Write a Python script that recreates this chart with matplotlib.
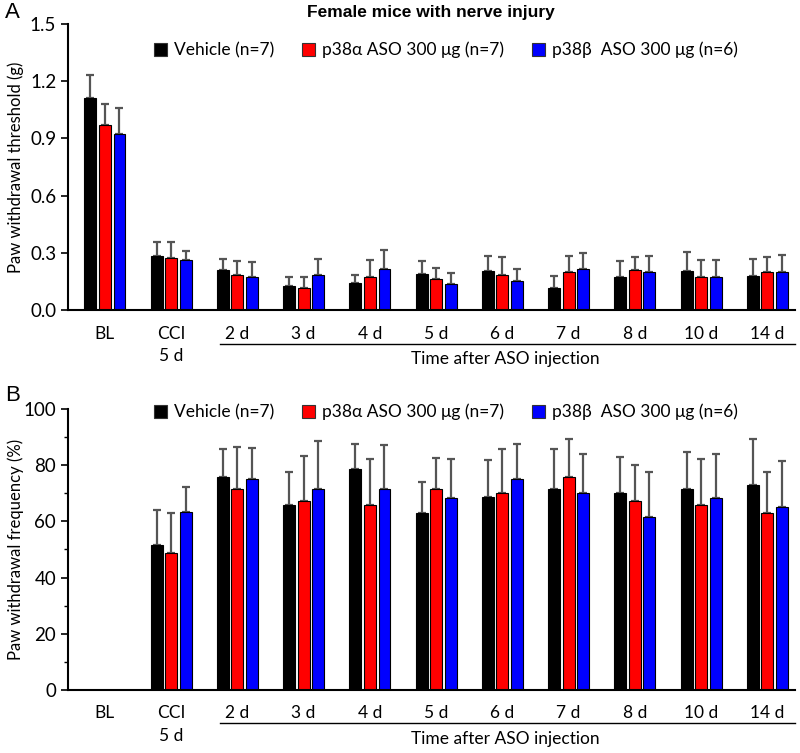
import numpy as np
import matplotlib
matplotlib.use('Agg')
import matplotlib.pyplot as plt
from matplotlib.patches import Patch
import matplotlib.transforms as mtransforms

plt.rcParams['font.family'] = ['Lato', 'DejaVu Sans']

groups = ['BL', 'CCI\n5 d', '2 d', '3 d', '4 d', '5 d', '6 d', '7 d', '8 d', '10 d', '14 d']
series = ['Vehicle (n=7)', 'p38\u03b1 ASO 300 \u03bcg (n=7)', 'p38\u03b2  ASO 300 \u03bcg (n=6)']
colors = ['#000000', '#ff0000', '#0000ff']

# panel A: paw withdrawal threshold (g), mean and upper SEM end
thr_veh = [1.11, 0.283, 0.21, 0.126, 0.14, 0.189, 0.205, 0.117, 0.171, 0.205, 0.18]
thr_veh_top = [1.23, 0.357, 0.266, 0.173, 0.184, 0.259, 0.285, 0.178, 0.259, 0.302, 0.269]
thr_a = [0.97, 0.275, 0.185, 0.117, 0.171, 0.163, 0.185, 0.201, 0.21, 0.171, 0.201]
thr_a_top = [1.08, 0.357, 0.257, 0.173, 0.26, 0.22, 0.28, 0.283, 0.28, 0.26, 0.28]
thr_b = [0.925, 0.26, 0.171, 0.182, 0.217, 0.136, 0.15, 0.215, 0.201, 0.171, 0.201]
thr_b_top = [1.06, 0.308, 0.253, 0.266, 0.316, 0.196, 0.217, 0.297, 0.285, 0.26, 0.29]

# panel B: paw withdrawal frequency (%), BL not measured
frq_veh = [0, 51.7, 75.7, 65.7, 78.8, 63.1, 68.8, 71.6, 70.1, 71.6, 73.1]
frq_veh_top = [0, 64.1, 85.6, 77.7, 87.4, 74.0, 81.7, 85.6, 82.8, 84.7, 89.3]
frq_a = [0, 48.6, 71.6, 67.4, 65.7, 71.6, 70.0, 75.7, 67.4, 65.7, 63.0]
frq_a_top = [0, 62.9, 86.5, 83.3, 82.1, 82.7, 85.6, 89.2, 80.1, 82.1, 77.7]
frq_b = [0, 63.5, 75.1, 71.6, 71.6, 68.3, 75.1, 70.0, 61.6, 68.3, 65.0]
frq_b_top = [0, 72.4, 86.0, 88.5, 87.2, 82.1, 87.5, 83.9, 77.7, 83.9, 81.4]


def draw_panel(ax, means, tops, ylim, yticks, fmt, ylabel, legend_y):
    x = np.arange(len(groups))
    width = 0.18
    offsets = [-0.22, 0, 0.22]
    for vals, top, c, off in zip(means, tops, colors, offsets):
        vals = np.array(vals)
        err = np.array(top) - vals
        show = vals > 0
        ax.bar(x[show] + off, vals[show], width, color=c, edgecolor='black',
               linewidth=0.8, zorder=2)
        ax.errorbar(x[show] + off, vals[show], yerr=[np.zeros(show.sum()), err[show]],
                    fmt='none', ecolor='#555555', elinewidth=1.6, capsize=3,
                    capthick=1.6, zorder=1)
    ax.set_xlim(-0.557, 10.42)
    ax.set_ylim(*ylim)
    ax.set_yticks(yticks)
    ax.set_yticklabels([fmt.format(t) for t in yticks], fontsize=13.5)
    ax.set_xticks([])
    ax.spines['top'].set_visible(False)
    ax.spines['right'].set_visible(False)
    ax.spines['left'].set_linewidth(1.5)
    ax.spines['bottom'].set_linewidth(1.5)
    ax.tick_params(axis='y', direction='out', length=5, width=1.2)
    ax.set_ylabel(ylabel, fontsize=12)
    ax.yaxis.set_label_coords(-0.061, 0.5)

    trans = mtransforms.blended_transform_factory(ax.transData, ax.transAxes)
    for i, g in enumerate(groups):
        ax.text(i, -0.055, g, transform=trans, ha='center', va='top',
                fontsize=12.5, linespacing=1.5)
    ax.plot([1.73, 10.42], [-0.118, -0.118], transform=trans, color='black',
            linewidth=1, clip_on=False)
    ax.text(6.05, -0.145, 'Time after ASO injection', transform=trans,
            ha='center', va='top', fontsize=12.5)

    handles = [Patch(facecolor=c, edgecolor='#333333', linewidth=0.8) for c in colors]
    ax.legend(handles, series, loc='center', bbox_to_anchor=(0.52, legend_y), ncol=3,
              frameon=False, fontsize=12.5, handlelength=0.75, handleheight=0.75,
              handletextpad=0.4, columnspacing=1.6, borderpad=0)


fig = plt.figure(figsize=(8, 7.53), dpi=100)
axA = fig.add_axes([0.085, 0.5883, 0.909, 0.3798])
axB = fig.add_axes([0.085, 0.0837, 0.909, 0.3732])

draw_panel(axA, [thr_veh, thr_a, thr_b], [thr_veh_top, thr_a_top, thr_b_top],
           (0, 1.5), [0.0, 0.3, 0.6, 0.9, 1.2, 1.5], '{:.1f}',
           'Paw withdrawal threshold (g)', 0.909)
draw_panel(axB, [frq_veh, frq_a, frq_b], [frq_veh_top, frq_a_top, frq_b_top],
           (0, 100), [0, 20, 40, 60, 80, 100], '{:d}',
           'Paw withdrawal frequency (%)', 0.989)
axB.set_yticks(np.arange(10, 100, 20), minor=True)
axB.tick_params(axis='y', which='minor', length=3, width=1)

fig.text(0.538, 0.984, 'Female mice with nerve injury', ha='center', va='center',
         fontsize=12.5, fontweight='bold', family=['Liberation Sans', 'DejaVu Sans'])
fig.text(0.006, 0.984, 'A', ha='left', va='center', fontsize=16,
         family=['Liberation Sans', 'DejaVu Sans'])
fig.text(0.006, 0.475, 'B', ha='left', va='center', fontsize=16,
         family=['Liberation Sans', 'DejaVu Sans'])

fig.savefig('out.png', dpi=100)
